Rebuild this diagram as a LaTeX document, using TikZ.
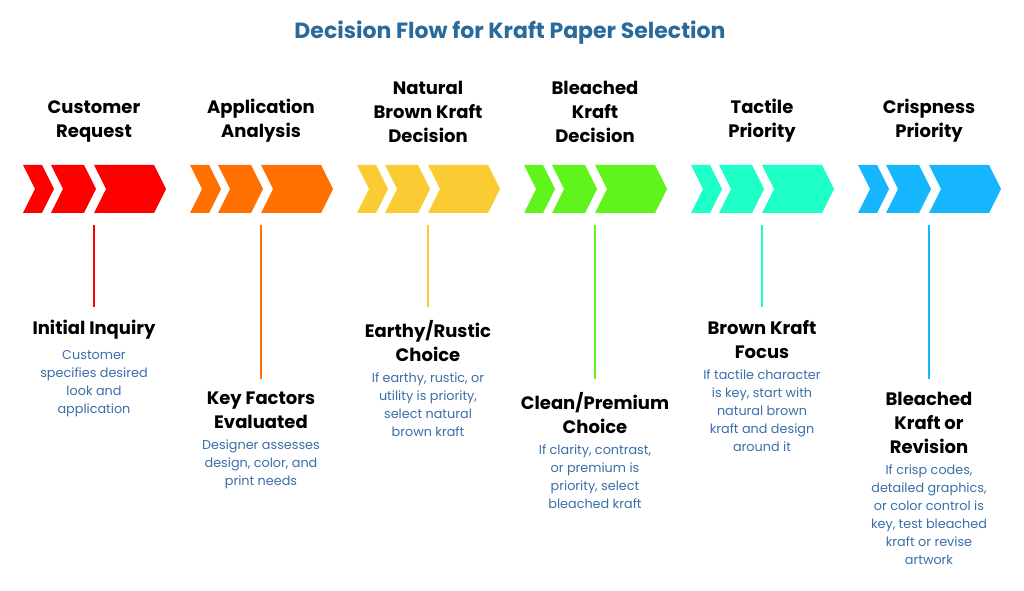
\documentclass[tikz,border=0pt]{standalone}
\usepackage{fontspec}
\setmainfont{Poppins}
\usetikzlibrary{positioning}
\definecolor{titleblue}{HTML}{2A6A9A}
\definecolor{descblue}{HTML}{3A6EA8}
\definecolor{cA}{HTML}{FF0000}
\definecolor{cB}{HTML}{FF7000}
\definecolor{cC}{HTML}{FACB32}
\definecolor{cD}{HTML}{5EF41C}
\definecolor{cE}{HTML}{1EFFC8}
\definecolor{cF}{HTML}{16B6FF}
\newcommand{\chev}[3]{% colour, left, right
  \fill[#1] (#2,165) -- (#3,165) -- (#3+12,189) -- (#3,213) -- (#2,213) -- (#2+12,189) -- cycle;}
\begin{document}
\begin{tikzpicture}[x=0.75pt,y=-0.75pt]
\tikzstyle{head}=[font=\fontsize{13.5}{18}\selectfont\bfseries, align=center, inner sep=0pt]
\tikzstyle{desc}=[font=\fontsize{9.6}{13.5}\selectfont, text=descblue, align=center, inner sep=0pt]
\tikzstyle{stem}=[line width=1.2pt]
\useasboundingbox (0,0) rectangle (1024,591);
  \node[font=\fontsize{16.5}{20}\selectfont\bfseries, text=titleblue] (title) at (510,33) {Decision Flow for Kraft Paper Selection};
  \foreach \i/\col/\top/\bot/\low/\desc in {%
    0/cA/{Customer\\Request}/{Initial Inquiry}/0/{Customer\\specifies desired\\look and\\application},
    1/cB/{Application\\Analysis}/{Key Factors\\Evaluated}/1/{Designer assesses\\design, color, and\\print needs},
    2/cC/{Natural\\Brown Kraft\\Decision}/{Earthy/Rustic\\Choice}/0/{If earthy, rustic, or\\utility is priority,\\select natural\\brown kraft},
    3/cD/{Bleached\\Kraft\\Decision}/{Clean/Premium\\Choice}/1/{If clarity, contrast,\\or premium is\\priority, select\\bleached kraft},
    4/cE/{Tactile\\Priority}/{Brown Kraft\\Focus}/0/{If tactile character\\is key, start with\\natural brown\\kraft and design\\around it},
    5/cF/{Crispness\\Priority}/{Bleached\\Kraft or\\Revision}/1/{If crisp codes,\\detailed graphics,\\or color control is\\key, test bleached\\kraft or revise\\artwork}} {
    \pgfmathsetmacro{\cx}{94+167*\i}
    \pgfmathsetmacro{\hy}{320+72*\low}
    \chev{\col}{\cx-71}{\cx-52}
    \chev{\col}{\cx-43}{\cx-10}
    \chev{\col}{\cx}{\cx+60}
    \node[head, anchor=south] (top\i) at (\cx,143) {\top};
    \coordinate (start\i) at (\cx,225);
    \node[head, anchor=north] (step\i) at (\cx,\hy) {\bot};
    \node[desc, below=8pt of step\i] (note\i) {\desc};
    \draw[stem, \col] (start\i) -- ([yshift=10pt]step\i.north);
  }
\end{tikzpicture}
\end{document}
